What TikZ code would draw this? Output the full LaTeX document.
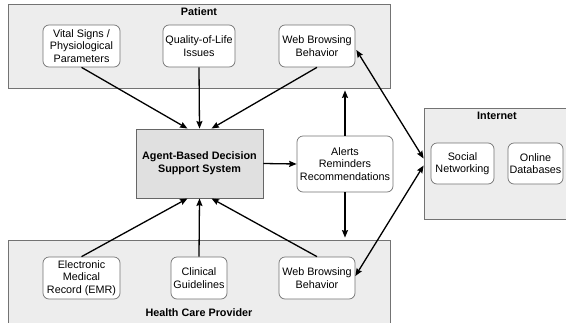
\documentclass[tikz,border=0pt]{standalone}
\usepackage{fontspec}
\setmainfont{Liberation Sans}
\usetikzlibrary{arrows.meta,calc}
\begin{document}
\begin{tikzpicture}[x=1pt,y=-1pt,
  font=\fontsize{10.8}{12.5}\selectfont,
  group/.style={draw=black!55, fill=black!7, line width=0.8pt, inner sep=0pt},
  item/.style={draw=black!55, fill=white, rounded corners=6pt, line width=0.7pt,
               align=center, inner sep=0pt},
  core/.style={draw=black!60, fill=black!12, line width=0.9pt, align=center,
               inner sep=0pt, font=\fontsize{10.8}{13}\selectfont\bfseries},
  title/.style={font=\fontsize{10.8}{12.5}\selectfont\bfseries, inner sep=0pt},
  tip/.style={},
  link/.style={line width=1.3pt, -{Stealth[length=7.5pt,width=6pt,inset=1pt]}},
  both/.style={line width=1.3pt, {Stealth[length=7.5pt,width=6pt,inset=1pt]}-{Stealth[length=7.5pt,width=6pt,inset=1pt]}}
]
\useasboundingbox (0,0) rectangle (566,322);
\clip (0,0) rectangle (566,322);

% group areas
\node[group, minimum width=382pt, minimum height=84pt] (patient) at (199,46) {};
\node[group, minimum width=382pt, minimum height=90pt] (hcp) at (199,285) {};
\node[group, minimum width=146pt, minimum height=111pt] (internet) at (497,163.5) {};

\node[title] (patientT) at (199,12) {Patient};
\node[title] (hcpT) at (199,313) {Health Care Provider};
\node[title] (internetT) at (497,116) {Internet};

% patient side
\node[item, minimum width=77pt, minimum height=42pt] (vital) at (81.5,46) {Vital Signs /\\Physiological\\Parameters};
\node[item, minimum width=72pt, minimum height=42pt] (qol) at (199,46) {Quality-of-Life\\Issues};
\node[item, minimum width=76pt, minimum height=42pt] (webP) at (317,46) {Web Browsing\\Behavior};

% provider side
\node[item, minimum width=77pt, minimum height=42pt] (emr) at (81.5,278) {Electronic\\Medical\\Record (EMR)};
\node[item, minimum width=56pt, minimum height=42pt] (guide) at (199,278) {Clinical\\Guidelines};
\node[item, minimum width=76pt, minimum height=42pt] (webH) at (317,278) {Web Browsing\\Behavior};

% internet
\node[item, minimum width=63pt, minimum height=41pt] (social) at (462.5,163.5) {Social\\Networking};
\node[item, minimum width=55pt, minimum height=41pt] (online) at (535.5,163.5) {Online\\Databases};

% decision support
\node[core, minimum width=127pt, minimum height=69pt] (dss) at (199.5,163.5) {Agent-Based Decision\\Support System};
\node[item, minimum width=96pt, minimum height=56pt] (alerts) at (345,164) {Alerts\\Reminders\\Recommendations};

% inputs to the decision support system
\draw[link] (vital.south) -- ($(dss.north)+(-12,0)$);
\draw[link] (qol.south) -- (dss.north);
\draw[link] (webP.south) -- ($(dss.north)+(12,0)$);
\draw[link] (emr.north) -- ($(dss.south)+(-12,0)$);
\draw[link] (guide.north) -- (dss.south);
\draw[link] (webH.north) -- ($(dss.south)+(12,0)$);

% outputs
\draw[link] (dss.east) -- (alerts.west);
\draw[link] (alerts.north) -- ($(alerts.north |- patient.south)+(0,2)$);
\draw[link] (alerts.south) -- ($(alerts.south |- hcp.north)+(0,-2)$);

% internet exchange
\draw[both] ($(webP.east)+(1,4)$) -- ($(internet.west)+(0,-5)$);
\draw[both] ($(webH.east)+(0,-2)$) -- ($(internet.west)+(0,2)$);
\end{tikzpicture}
\end{document}
